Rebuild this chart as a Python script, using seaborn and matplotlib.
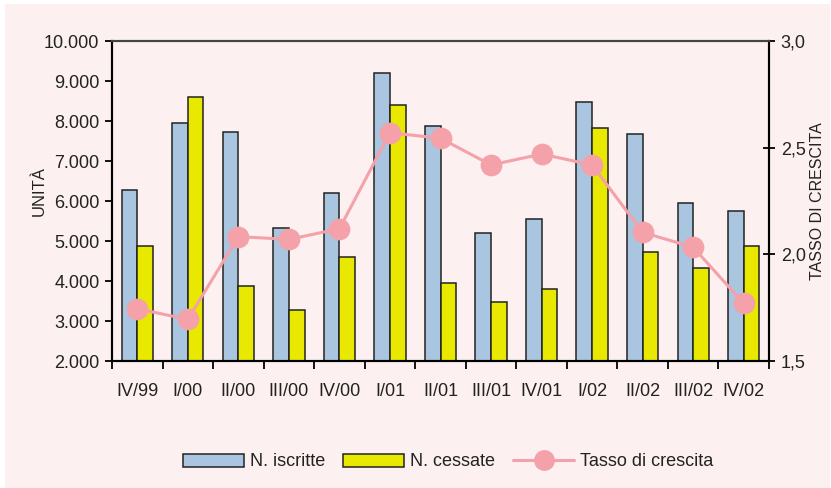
import matplotlib
matplotlib.use("Agg")
import matplotlib.pyplot as plt
import seaborn as sns
import numpy as np
import pandas as pd
from matplotlib.patches import Patch, Rectangle
from matplotlib.lines import Line2D

#---- Data ---------------------------------------------------------####

periodi = ["IV/99", "I/00", "II/00", "III/00", "IV/00", "I/01", "II/01",
           "III/01", "IV/01", "I/02", "II/02", "III/02", "IV/02"]
iscritte = [6270, 7940, 7730, 5330, 6210, 9210, 7875, 5210, 5540, 8470, 7675, 5940, 5740]
cessate = [4875, 8610, 3875, 3275, 4610, 8400, 3940, 3475, 3800, 7820, 4730, 4330, 4875]
tasso = [1.745, 1.695, 2.083, 2.07, 2.12, 2.57, 2.544, 2.419, 2.47, 2.419, 2.103, 2.033, 1.77]

left_ticks = [2000, 3000, 4000, 5000, 6000, 7000, 8000, 9000, 10000]
left_labels = ["2.000", "3.000", "4.000", "5.000", "6.000", "7.000", "8.000", "9.000", "10.000"]
right_ticks = [1.5, 2.0, 2.5, 3.0]
right_labels = ["1,5", "2,0", "2,5", "3,0"]

col_blu = "#AAC5DF"
col_giallo = "#E8E800"
col_rosa = "#F4A1AA"
col_sfondo = "#FDF0F0"

#---- Reformat ---------------------------------------------------------####

bars = pd.DataFrame({"periodo": periodi, "N. iscritte": iscritte, "N. cessate": cessate})
bars = pd.melt(bars, id_vars=["periodo"], var_name="serie", value_name="valore")
line = pd.DataFrame({"periodo": periodi, "tasso": tasso})

#---- Plot ---------------------------------------------------------####

sns.set_style("ticks")
plt.rcParams["font.family"] = ["Liberation Sans", "DejaVu Sans"]
plt.rcParams["text.color"] = "#222222"
plt.rcParams["xtick.color"] = "black"
plt.rcParams["ytick.color"] = "black"
plt.rcParams["xtick.labelcolor"] = "#222222"
plt.rcParams["ytick.labelcolor"] = "#222222"

fig = plt.figure(figsize=(8.31, 4.88), dpi=100, facecolor="white")
fig.patches.append(Rectangle((5 / 831, 0), 825 / 831, 484 / 488, transform=fig.transFigure,
                             facecolor=col_sfondo, edgecolor="none", zorder=-10))
ax = fig.add_axes([112 / 831, 1 - 361 / 488, 657 / 831, 320 / 488])
ax.set_facecolor("none")

sns.barplot(data=bars, x="periodo", y="valore", hue="serie",
            palette=[col_blu, col_giallo], saturation=1, width=0.62, gap=0,
            edgecolor="#222222", linewidth=1.1, ax=ax, legend=False)
ax.set_ylim(2000, 10000)
ax.set_yticks(left_ticks)
ax.set_yticklabels(left_labels)
ax.set_ylabel("UNITÀ", fontsize=12, color="#222222")
ax.yaxis.set_label_coords(-0.1, 0.53)
ax.set_xlabel("")

ax2 = ax.twinx()
sns.pointplot(data=line, x="periodo", y="tasso", color=col_rosa, markers="o",
              markersize=14, linewidth=2.2, ax=ax2)
ax2.set_ylim(1.5, 3.0)
ax2.set_yticks(right_ticks)
ax2.set_yticklabels(right_labels)
ax2.set_ylabel("TASSO DI CRESCITA", fontsize=11.5, rotation=90, color="#222222")
ax2.yaxis.set_label_coords(1.063, 0.5)
ax2.set_xlabel("")

# x ticks: marks between categories, labels at centres
n = len(periodi)
ax.set_xlim(-0.5, n - 0.5)
ax.set_xticks(np.arange(n + 1) - 0.5)
ax.set_xticklabels([""] * (n + 1))
ax.set_xticks(np.arange(n), minor=True)
ax.set_xticklabels(periodi, minor=True, fontsize=13)
ax.tick_params(axis="x", which="major", direction="out", length=6, width=1.3)
ax.tick_params(axis="x", which="minor", length=0, pad=16)
ax.tick_params(axis="y", direction="out", length=5, width=1.3, labelsize=13, pad=4)
ax2.tick_params(axis="y", direction="inout", length=9, width=1.3, labelsize=13, pad=4)

for a in (ax, ax2):
    for s in ["left", "right", "bottom"]:
        a.spines[s].set_color("black")
        a.spines[s].set_linewidth(1.5)
    a.spines["top"].set_visible(True)
    a.spines["top"].set_color("#444444")
    a.spines["top"].set_linewidth(1.5)

handles = [Patch(facecolor=col_blu, edgecolor="#222222", linewidth=1.1),
           Patch(facecolor=col_giallo, edgecolor="#222222", linewidth=1.1),
           Line2D([0], [0], color=col_rosa, linewidth=2.2, marker="o", markersize=14)]
fig.legend(handles, ["N. iscritte", "N. cessate", "Tasso di crescita"], loc="center",
           bbox_to_anchor=(0.539, 1 - 462 / 488), ncol=3, frameon=False, fontsize=13,
           handlelength=3.4, handleheight=0.75, handletextpad=0.3, columnspacing=1.0)

plt.savefig("out.png", dpi=100, facecolor=fig.get_facecolor())
